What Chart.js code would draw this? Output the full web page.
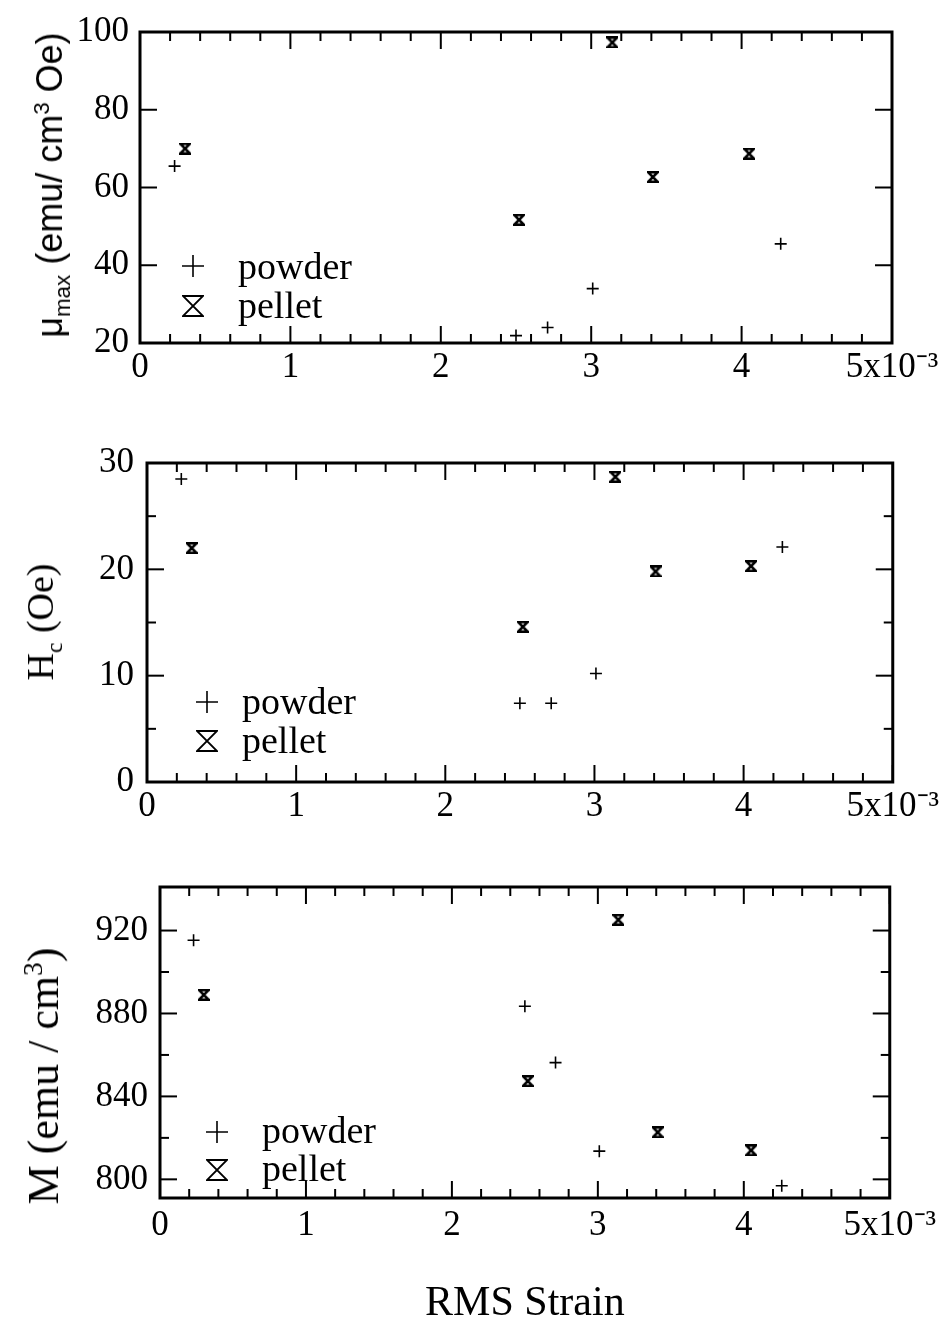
<!DOCTYPE html>
<html>
<head>
<meta charset="utf-8">
<script src="https://cdn.jsdelivr.net/npm/chart.js@4.4.1/dist/chart.umd.min.js"></script>
<style>
  body { margin: 0; background: #fff; }
  #page { position: relative; width: 943px; height: 1321px; overflow: hidden; font-family: 'Liberation Serif', serif; color: #000; }
  canvas { position: absolute; left: 0; }
  .ytitle { position: absolute; white-space: nowrap; line-height: 1; transform: translate(-50%, -50%) rotate(-90deg); }
  .ytitle sub, .ytitle sup { font-size: 62%; line-height: 0; }
  .leg { position: absolute; font-size: 38px; line-height: 1; white-space: nowrap; }
  .mk { position: absolute; }
</style>
</head>
<body>
<div id="page">
  <canvas id="cMu" width="943" height="420" style="top:0"></canvas>
  <canvas id="cHc" width="943" height="420" style="top:420px"></canvas>
  <canvas id="cM" width="943" height="481" style="top:840px"></canvas>

  <div class="ytitle" style="left:50px;top:185px;font-family:'Liberation Sans',sans-serif;font-size:36px">&mu;<sub>max</sub> (emu/ cm<sup>3</sup> Oe)</div>
  <div class="ytitle" style="left:40px;top:622px;font-size:38px">H<sub>c</sub> (Oe)</div>
  <div class="ytitle" style="left:44px;top:1076px;font-size:44px">M (emu / cm<sup>3</sup>)</div>

  <!-- legends -->
  <svg class="mk" style="left:182px;top:255px" width="22" height="22"><path d="M11 0V22M0 11H22" stroke="#000" stroke-width="1.6"/></svg>
  <svg class="mk" style="left:182px;top:295px" width="22" height="22"><path d="M1 1H21L1 21H21Z" fill="none" stroke="#000" stroke-width="1.8"/></svg>
  <div class="leg" style="left:238px;top:247px">powder</div>
  <div class="leg" style="left:238px;top:286px">pellet</div>

  <svg class="mk" style="left:196px;top:691px" width="22" height="22"><path d="M11 0V22M0 11H22" stroke="#000" stroke-width="1.6"/></svg>
  <svg class="mk" style="left:196px;top:730px" width="22" height="22"><path d="M1 1H21L1 21H21Z" fill="none" stroke="#000" stroke-width="1.8"/></svg>
  <div class="leg" style="left:242px;top:682px">powder</div>
  <div class="leg" style="left:242px;top:721px">pellet</div>

  <svg class="mk" style="left:206px;top:1121px" width="22" height="22"><path d="M11 0V22M0 11H22" stroke="#000" stroke-width="1.6"/></svg>
  <svg class="mk" style="left:206px;top:1159px" width="22" height="22"><path d="M1 1H21L1 21H21Z" fill="none" stroke="#000" stroke-width="1.8"/></svg>
  <div class="leg" style="left:262px;top:1111px">powder</div>
  <div class="leg" style="left:262px;top:1149px">pellet</div>
</div>

<script>
// RMS strain, in units of 10^-3
const powderStrain = [0.23, 2.50, 2.71, 3.01, 4.26];
const pelletStrain = [0.30, 2.52, 3.14, 3.41, 4.05];

// mu_max (emu / cm^3 Oe)
const muPowder = [65.5, 21.9, 24.0, 34.0, 45.5];
const muPellet = [70.0, 51.7, 97.3, 62.7, 68.7];

// Hc (Oe)
const hcPowder = [28.5, 7.4, 7.4, 10.2, 22.1];
const hcPellet = [22.0, 14.6, 28.7, 19.8, 20.3];

// M (emu / cm^3)
const mPowder = [915.3, 883.5, 856.3, 813.6, 796.9];
const mPellet = [889.0, 847.4, 925.2, 822.7, 814.0];

// axis ticks
const xMajor = [0, 1, 2, 3, 4, 5];
const xTickLabels = ['0', '1', '2', '3', '4', '5x10\u207B\u00B3'];
const xMinor = [0.2, 0.4, 0.6, 0.8, 1.2, 1.4, 1.6, 1.8, 2.2, 2.4, 2.6, 2.8,
                3.2, 3.4, 3.6, 3.8, 4.2, 4.4, 4.6, 4.8];
const muMajor = [20, 40, 60, 80, 100];
const muMinor = [];
const hcMajor = [0, 10, 20, 30];
const hcMinor = [5, 15, 25];
const mMajor = [800, 840, 880, 920];
const mMinor = [820, 860, 900];

const serif = 'Liberation Serif';

function hourglass(size, lw) {
	const c = document.createElement('canvas');
	c.width = size;
	c.height = size;
	const g = c.getContext('2d');
	const p = lw / 2;
	g.lineWidth = lw;
	g.strokeStyle = '#000';
	g.beginPath();
	g.moveTo(p, p);
	g.lineTo(size - p, p);
	g.lineTo(p, size - p);
	g.lineTo(size - p, size - p);
	g.closePath();
	g.stroke();
	return c;
}
const pelletMark = hourglass(12, 2.5);

// box frame plus inward ticks on all four sides
const frameTicks = {
	id: 'frameTicks',
	afterDraw(chart, args, opts) {
		const { ctx, chartArea: a, scales: { x, y } } = chart;
		ctx.save();
		ctx.strokeStyle = '#000';
		ctx.lineWidth = 2;
		const seg = (x1, y1, x2, y2) => { ctx.beginPath(); ctx.moveTo(x1, y1); ctx.lineTo(x2, y2); ctx.stroke(); };
		const tx = (v, len) => {
			const px = x.getPixelForValue(v);
			seg(px, a.bottom, px, a.bottom - len);
			seg(px, a.top, px, a.top + len);
		};
		const ty = (v, len) => {
			const py = y.getPixelForValue(v);
			seg(a.left, py, a.left + len, py);
			seg(a.right, py, a.right - len, py);
		};
		xMajor.forEach(v => tx(v, 17));
		xMinor.forEach(v => tx(v, 9));
		opts.yMajor.forEach(v => ty(v, 17));
		opts.yMinor.forEach(v => ty(v, 9));
		ctx.lineWidth = 3;
		ctx.strokeRect(a.left, a.top, a.right - a.left, a.bottom - a.top);
		ctx.restore();
	}
};

function panel(id, o) {
	const toPts = (xs, ys) => xs.map((v, i) => ({ x: v, y: ys[i] }));
	return new Chart(document.getElementById(id), {
		type: 'scatter',
		data: {
			datasets: [
				{
					label: 'powder',
					data: toPts(powderStrain, o.powder),
					pointStyle: 'cross',
					pointRadius: 6,
					pointHoverRadius: 6,
					borderColor: '#000',
					backgroundColor: '#000',
					borderWidth: 1.6
				},
				{
					label: 'pellet',
					data: toPts(pelletStrain, o.pellet),
					pointStyle: pelletMark,
					borderColor: '#000',
					backgroundColor: '#000'
				}
			]
		},
		options: {
			responsive: false,
			animation: false,
			events: [],
			layout: { padding: { left: 0, top: o.top, right: o.right, bottom: 0 } },
			plugins: {
				legend: { display: false },
				tooltip: { enabled: false },
				frameTicks: { yMajor: o.yMajor, yMinor: o.yMinor }
			},
			scales: {
				x: {
					type: 'linear',
					min: 0,
					max: 5,
					grid: { display: false, drawTicks: false },
					border: { display: false },
					afterBuildTicks: s => { s.ticks = xMajor.map(v => ({ value: v })); },
					afterFit: s => { s.height = o.xh; },
					ticks: {
						autoSkip: false,
						maxRotation: 0,
						padding: o.xpad,
						color: '#000',
						font: { family: serif, size: 35 },
						callback: (v, i) => xTickLabels[i]
					},
					title: o.xtitle ? {
						display: true,
						text: o.xtitle,
						color: '#000',
						font: { family: serif, size: 42, lineHeight: 0.8 },
						padding: { top: 0, bottom: 0 }
					} : { display: false }
				},
				y: {
					min: o.ymin,
					max: o.ymax,
					grid: { display: false, drawTicks: false },
					border: { display: false },
					afterBuildTicks: s => { s.ticks = o.yMajor.map(v => ({ value: v })); },
					afterFit: s => { s.width = o.left; },
					ticks: {
						autoSkip: false,
						padding: o.ypad,
						color: '#000',
						font: { family: serif, size: 35 }
					}
				}
			}
		},
		plugins: [frameTicks]
	});
}

panel('cMu', {
	powder: muPowder, pellet: muPellet,
	ymin: 20, ymax: 100, yMajor: muMajor, yMinor: muMinor,
	left: 140, top: 25, right: 51, xh: 77, xpad: 4, ypad: 11
});
panel('cHc', {
	powder: hcPowder, pellet: hcPellet,
	ymin: 0, ymax: 30, yMajor: hcMajor, yMinor: hcMinor,
	left: 147, top: 43, right: 46, xh: 58, xpad: 4, ypad: 13
});
panel('cM', {
	powder: mPowder, pellet: mPellet,
	ymin: 791, ymax: 941, yMajor: mMajor, yMinor: mMinor,
	left: 160, top: 47, right: 50, xh: 123, xpad: 7, ypad: 12,
	xtitle: 'RMS Strain'
});
</script>
</body>
</html>
